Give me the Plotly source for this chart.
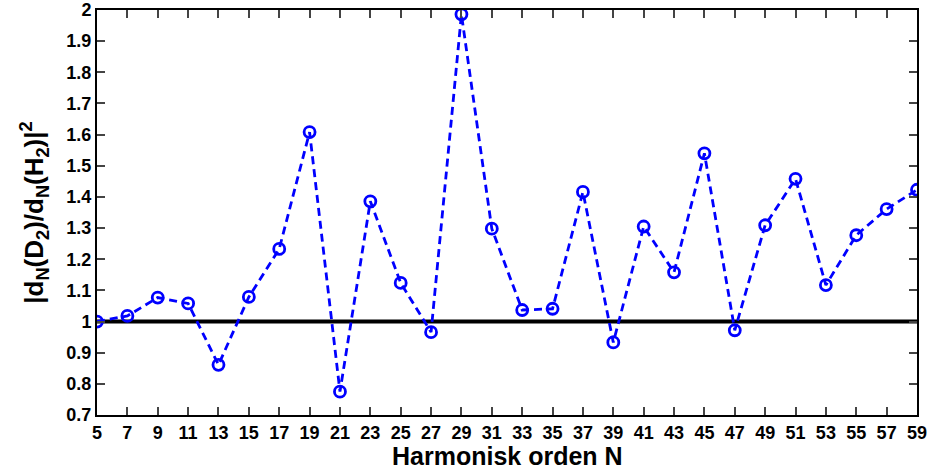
import plotly.graph_objects as go

harmonic_order = [5, 7, 9, 11, 13, 15, 17, 19, 21, 23, 25, 27, 29, 31, 33, 35, 37, 39,
                  41, 43, 45, 47, 49, 51, 53, 55, 57, 59]
ratio = [1.00, 1.018, 1.077, 1.058, 0.861, 1.079, 1.233, 1.608, 0.775, 1.386,
         1.124, 0.966, 1.986, 1.298, 1.037, 1.041, 1.416, 0.933,
         1.305, 1.158, 1.540, 0.972, 1.309, 1.458, 1.117, 1.277, 1.361, 1.423]
reference_x = [5, 59]
reference_y = [1, 1]

x_ticks = list(range(5, 60, 2))
y_ticks = [0.7, 0.8, 0.9, 1.0, 1.1, 1.2, 1.3, 1.4, 1.5, 1.6, 1.7, 1.8, 1.9, 2.0]
y_tick_text = ["0.7", "0.8", "0.9", "1", "1.1", "1.2", "1.3", "1.4", "1.5", "1.6",
               "1.7", "1.8", "1.9", "2"]

FONT = "Liberation Sans, Arial, sans-serif"

fig = go.Figure()
fig.add_trace(go.Scatter(
    x=reference_x, y=reference_y, mode="lines",
    line=dict(color="black", width=4), hoverinfo="skip", showlegend=False))
fig.add_trace(go.Scatter(
    x=harmonic_order, y=ratio, mode="lines+markers",
    line=dict(color="#0000ff", width=2.8, dash="8px,5px"),
    marker=dict(symbol="circle-open", size=11, color="#0000ff",
                line=dict(color="#0000ff", width=2.8)),
    showlegend=False))

axis_common = dict(
    showgrid=False, zeroline=False, showline=True, linecolor="black", linewidth=2,
    mirror="ticks", ticks="inside", ticklen=8, tickwidth=1.5, tickcolor="#444",
    automargin=False, ticklabeloverflow="allow",
    tickfont=dict(family=FONT, size=18, color="black"),
)

fig.update_layout(
    width=928, height=470,
    margin=dict(l=97, r=11, t=10, b=55),
    paper_bgcolor="white", plot_bgcolor="white",
    xaxis=dict(range=[5, 59], tickvals=x_ticks,
               ticktext=["<b>%d</b>" % v for v in x_ticks],
               **axis_common),
    yaxis=dict(range=[0.7, 2.0], tickvals=y_ticks,
               ticktext=["<b>%s</b>" % t for t in y_tick_text],
               title=dict(text="<b>|d<sub>N</sub>(D<sub>2</sub>)/d<sub>N</sub>(H<sub>2</sub>)|<sup>2</sup></b>",
                          font=dict(family=FONT, size=26, color="black")),
               **axis_common),
    annotations=[dict(
        text="<b>Harmonisk orden N</b>", xref="paper", yref="paper",
        x=0.5, y=-56 / 405, xanchor="center", yanchor="bottom",
        showarrow=False, borderpad=0,
        font=dict(family=FONT, size=25, color="black"))],
)

fig.write_html("out.html")
